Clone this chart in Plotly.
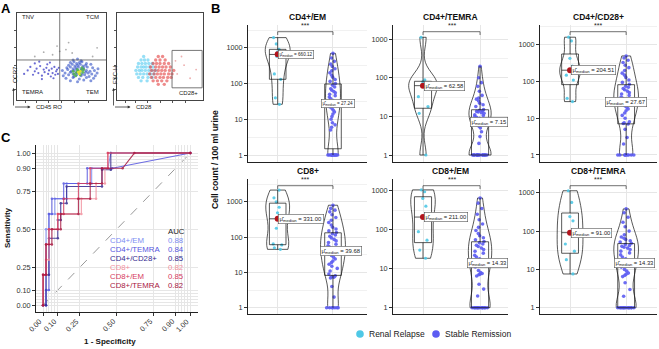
import numpy as np
import plotly.graph_objects as go

W, H = 659, 349
FONT = "Liberation Sans, Arial, Helvetica, sans-serif"


def fx(p):
    return p / W


def fy(p):
    return 1 - p / H


# ---------------- Panel B data (cells / 100 ml urine) ----------------
titles_b = ["CD4+/EM", "CD4+/TEMRA", "CD4+/CD28+", "CD8+", "CD8+/EM", "CD8+/TEMRA"]
groups_b = ["Renal Relapse", "Stable Remission"]

relapse_cd4_em = [26.3, 40, 132, 186, 580.24, 740, 780, 910, 1290, 1940]
remission_cd4_em = [1] * 13 + [5, 6, 7, 8, 10, 12, 14, 16, 18, 20, 22, 25, 27.24, 30, 34, 38, 42, 46, 50,
                               55, 60, 65, 72, 80, 90, 100, 115, 130, 150, 170, 200, 230, 260, 300, 350,
                               420, 520, 700]

relapse_cd4_temra = [1, 12, 18, 32.5, 62.58, 70, 79, 88, 1120]
remission_cd4_temra = [1] * 18 + [2, 3, 4, 5, 5.5, 6, 6.5, 7.15, 8, 9, 9.5, 10, 10.5, 11, 12, 12.5, 13,
                                  13.5, 14, 14.5, 15, 18, 20, 22, 25, 28, 30, 35, 45, 60, 75, 100, 200]

relapse_cd4_cd28 = [28.5, 35, 110, 150, 204.51, 265, 430, 1280, 1620]
remission_cd4_cd28 = [1] * 9 + [2, 3, 5, 7, 7.2, 7.5, 8, 10, 12, 14, 16, 18, 20, 22, 24, 26, 27.67, 30, 32,
                                35, 38, 42, 46, 50, 55, 60, 65, 70, 75, 85, 95, 110, 130, 150, 170, 200, 240,
                                280, 330, 380, 440, 500]

relapse_cd8 = [45, 50, 60, 64, 178, 331, 490, 700, 1000, 1300, 2150]
remission_cd8 = [1] * 7 + [2, 4, 7, 7.3, 7.5, 8, 9, 11, 13, 15, 17, 19, 21, 24, 27, 30, 33, 36, 39.68, 43,
                           47, 52, 57, 63, 70, 78, 86, 95, 105, 115, 125, 135, 150, 170, 190, 220, 260, 300,
                           360, 430, 520, 580, 650, 800]

relapse_cd8_em = [18.5, 30, 54, 89, 211, 400, 635, 940, 1050]
remission_cd8_em = [1] * 14 + [2, 3, 4, 6.5, 7, 7.2, 7.5, 8, 9, 11, 13, 14.33, 16, 18, 20, 22, 25, 28, 31,
                               34, 37, 40, 43, 46, 50, 55, 62, 70, 80, 95, 115, 140, 180, 250, 350, 480, 650]

relapse_cd8_temra = [7.6, 18, 30, 46, 91, 186, 240, 560, 1130]
remission_cd8_temra = [1] * 14 + [2, 3, 4.5, 6.5, 7, 7.5, 8, 9, 10, 11.5, 13, 14.33, 16, 19, 21, 24, 27,
                                  30, 33, 36, 38, 40, 42, 45, 48, 52, 56, 60, 65, 70, 80, 100, 130, 170, 230,
                                  300, 380]

y_tick_vals = [1, 10, 100, 1000]

# ---------------- Panel C data (ROC) ----------------
roc_names = ["CD4+/EM", "CD4+/TEMRA", "CD4+/CD28+", "CD8+", "CD8+/EM", "CD8+/TEMRA"]
roc_auc = [0.88, 0.84, 0.85, 0.82, 0.85, 0.82]
fpr_cd4_em = [0, 0.02, 0.02, 0.04, 0.04, 0.08, 0.08, 0.16, 0.16, 0.33, 0.33, 0.44, 0.46, 1.0]
tpr_cd4_em = [0, 0, 0.5, 0.5, 0.6, 0.6, 0.7, 0.7, 0.8, 0.8, 0.9, 0.9, 1.0, 1.0]
fpr_cd4_temra = [0, 0.02, 0.02, 0.04, 0.04, 0.06, 0.06, 0.14, 0.14, 0.30, 0.30, 0.47, 1.0]
tpr_cd4_temra = [0, 0, 0.1, 0.1, 0.6, 0.6, 0.7, 0.7, 0.8, 0.8, 0.9, 0.9, 1.0]
fpr_cd4_cd28 = [0, 0.02, 0.02, 0.04, 0.04, 0.10, 0.10, 0.12, 0.12, 0.16, 0.16, 0.40, 0.40, 0.46, 0.46, 1.0]
tpr_cd4_cd28 = [0, 0, 0.2, 0.2, 0.44, 0.44, 0.56, 0.56, 0.67, 0.67, 0.78, 0.78, 0.89, 0.89, 1.0, 1.0]
fpr_cd8 = [0, 0, 0.02, 0.02, 0.04, 0.04, 0.10, 0.10, 0.26, 0.26, 0.36, 0.36, 0.42, 0.42, 0.44, 0.44, 1.0]
tpr_cd8 = [0, 0.2, 0.2, 0.3, 0.3, 0.5, 0.5, 0.6, 0.6, 0.7, 0.7, 0.8, 0.8, 0.9, 0.9, 1.0, 1.0]
fpr_cd8_em = [0, 0, 0.02, 0.02, 0.04, 0.04, 0.10, 0.10, 0.14, 0.14, 0.24, 0.24, 0.32, 0.32, 0.44, 0.44, 1.0]
tpr_cd8_em = [0, 0.2, 0.2, 0.4, 0.4, 0.5, 0.5, 0.6, 0.6, 0.7, 0.7, 0.8, 0.8, 0.9, 0.9, 1.0, 1.0]
fpr_cd8_temra = [0, 0, 0.02, 0.02, 0.06, 0.06, 0.12, 0.12, 0.24, 0.24, 0.32, 0.32, 0.40, 0.40, 0.54, 0.62, 1.0]
tpr_cd8_temra = [0, 0.2, 0.2, 0.4, 0.4, 0.5, 0.5, 0.6, 0.6, 0.7, 0.7, 0.8, 0.8, 0.9, 0.9, 1.0, 1.0]
roc_ticks = [0, 0.10, 0.25, 0.50, 0.75, 0.90, 1.00]

# ---------------- Panel A data (flow cytometry events, arbitrary units) ----------------
flow1_sparse = [(8, 30), (12, 34), (15, 38), (18, 29), (20, 33), (22, 36), (24, 31), (26, 39), (28, 28),
                (30, 35), (31, 32), (33, 37), (35, 30), (36, 34), (38, 27), (39, 36), (40, 31), (42, 38),
                (43, 29), (44, 33), (45, 35), (46, 30), (47, 37), (20, 42), (28, 24), (34, 41), (41, 25),
                (25, 44), (37, 43)]
flow1_dense = [(60, 22), (68, 21), (75, 23), (83, 22), (55, 25), (63, 26), (70, 24), (78, 26), (86, 25),
               (52, 28), (58, 29), (64, 27), (67, 29), (72, 28), (76, 29), (81, 27), (88, 28), (54, 31),
               (60, 32), (63, 30), (66, 31), (69, 32), (73, 30), (77, 32), (80, 31), (84, 30), (90, 31),
               (51, 34), (57, 35), (61, 33), (64, 34), (67, 35), (70, 33), (74, 35), (78, 34), (82, 33),
               (87, 34), (56, 37), (60, 38), (63, 36), (66, 37), (69, 38), (72, 36), (75, 37), (79, 38),
               (85, 37), (91, 36), (58, 40), (62, 41), (65, 39), (68, 40), (71, 41), (74, 39), (77, 40),
               (83, 41), (60, 43), (64, 44), (67, 42), (70, 43), (73, 44), (78, 42), (63, 46), (68, 47),
               (72, 45)]
flow1_green = [(64, 30), (67, 32), (70, 31), (72, 34), (68, 35), (74, 32), (66, 28), (71, 29), (69, 33),
               (75, 35), (63, 33), (73, 37)]
flow1_yellow = [(69, 32), (71, 33), (70, 30)]
flow1_gray = [(40, 52), (48, 56), (55, 58), (45, 62), (62, 54), (30, 55), (58, 66), (85, 50), (20, 50),
              (90, 60)]
flow2_cyan = [(28, 22), (35, 22), (25, 26), (30, 26), (36, 26), (41, 26), (23, 30), (27, 30), (31, 30),
              (35, 30), (39, 30), (43, 30), (22, 34), (26, 34), (29, 34), (33, 34), (37, 34), (41, 34),
              (45, 34), (24, 38), (28, 38), (31, 38), (34, 38), (38, 38), (42, 38), (25, 42), (29, 42),
              (33, 42), (37, 42), (41, 42), (28, 46), (32, 46), (36, 46), (31, 50)]
flow2_red = [(48, 18), (55, 18), (42, 22), (47, 22), (52, 22), (58, 22), (40, 26), (45, 26), (50, 26),
             (54, 26), (59, 26), (63, 26), (38, 30), (43, 30), (47, 30), (51, 30), (55, 30), (60, 30),
             (64, 30), (40, 34), (44, 34), (48, 34), (52, 34), (56, 34), (61, 34), (66, 34), (39, 38),
             (45, 38), (49, 38), (53, 38), (57, 38), (62, 38), (42, 42), (46, 42), (50, 42), (55, 42),
             (60, 42), (45, 46), (50, 46), (56, 46), (48, 50), (53, 50)]
flow2_sparse = [(70, 30), (78, 40), (85, 25), (92, 35), (75, 50), (68, 45)]
flow1_quad = (48, 46)
flow2_gate = (64, 99, 14, 57)

# ---------------- styles ----------------
C_REL = "#4fc8e6"
C_REM = "#5c5cf2"
C_MED = "#b3141c"
GRID = "#e6e6e6"
GRID_MINOR = "#f1f1f1"
roc_colors = ["#7d8cf2", "#5656e0", "#33288f", "#f2909e", "#d63a5e", "#a8173f"]

rows_top = [25, 179]
rows_bot = [162, 314]
cols_left = [248, 393, 540]
cols_right = [367, 508, 657]
xr_b = [[-0.537, 1.615], [-0.526, 1.49], [-0.536, 1.55]]
yr_b = [[-0.196, 3.641], [-0.181, 3.368], [-0.191, 3.542],
        [-0.178, 3.646], [-0.162, 3.30], [-0.164, 3.36]]
w_rel = [0.45, 0.50, 0.37, 0.43, 0.43, 0.46]
w_rem = [0.27, 0.39, 0.44, 0.45, 0.41, 0.44]
lab_font = [4.6, 5.8, 5.9, 5.9, 5.8, 5.8]
lab_dx_rel = [0, 1, 1, 0, 1, 1]
lab_dx_rem = [-12, -10, -21, -13, -13, -12]


def nrd0(v):
    v = np.asarray(v, dtype=float)
    sd = np.std(v, ddof=1)
    q75, q25 = np.percentile(v, [75, 25])
    lo = min(sd, (q75 - q25) / 1.34)
    if lo <= 0:
        lo = sd if sd > 0 else 1.0
    return 0.9 * lo * len(v) ** -0.2


fig = go.Figure()
annotations = []
shapes = []
layout = dict(width=W, height=H, margin=dict(l=0, r=0, t=0, b=0), paper_bgcolor="white",
              plot_bgcolor="white", showlegend=False, font=dict(family=FONT, color="#222"),
              violinmode="overlay", boxmode="overlay")

relapse_sets = [relapse_cd4_em, relapse_cd4_temra, relapse_cd4_cd28, relapse_cd8, relapse_cd8_em,
                relapse_cd8_temra]
remission_sets = [remission_cd4_em, remission_cd4_temra, remission_cd4_cd28, remission_cd8,
                  remission_cd8_em, remission_cd8_temra]

for i in range(6):
    r, c = divmod(i, 3)
    s = "" if i == 0 else str(i + 1)
    xa, ya = "x" + s, "y" + s
    for g, (vals, col, wd, jit, msz) in enumerate([(relapse_sets[i], C_REL, w_rel[i], 0.45, 3.2),
                                                   (remission_sets[i], C_REM, w_rem[i], 0.8, 3.6)]):
        lv = np.log10(np.asarray(vals, dtype=float))
        fig.add_trace(go.Violin(x=[g] * len(lv), y=lv, xaxis=xa, yaxis=ya, width=wd, spanmode="hard",
                                bandwidth=nrd0(lv), points="all", jitter=jit, pointpos=0,
                                marker=dict(color=col, size=msz, opacity=0.9),
                                line=dict(color="#111", width=0.7), fillcolor="rgba(0,0,0,0)",
                                scalemode="width", hoverinfo="skip"))
        fig.add_trace(go.Box(x=[g] * len(lv), y=lv, xaxis=xa, yaxis=ya, width=0.3, boxpoints=False,
                             line=dict(color="#111", width=0.7), fillcolor="rgba(0,0,0,0)",
                             whiskerwidth=0, quartilemethod="linear", hoverinfo="skip"))
    med_rel = float(np.median(relapse_sets[i]))
    med_rem = float(np.median(remission_sets[i]))
    fig.add_trace(go.Scatter(x=[0, 1], y=[np.log10(med_rel), np.log10(med_rem)], xaxis=xa, yaxis=ya,
                             mode="markers", marker=dict(color=C_MED, size=6), hoverinfo="skip"))
    for g, med, dx in [(0, med_rel, lab_dx_rel[i]), (1, med_rem, lab_dx_rem[i])]:
        annotations.append(dict(x=g, y=np.log10(med), xref=xa, yref=ya, xanchor="left", yanchor="middle",
                                xshift=dx, showarrow=False,
                                text="\u03bc\u0302<sub>median</sub> = %.2f" % med,
                                font=dict(size=lab_font[i], color="#222"), bgcolor="white",
                                bordercolor="#555", borderwidth=0.6, borderpad=1))
    L, R = cols_left[c], cols_right[c]
    top, bot = rows_top[r], rows_bot[r]
    layout["xaxis" + s] = dict(domain=[fx(L), fx(R)], range=xr_b[c], anchor=ya, tickvals=[0, 1],
                               showticklabels=False, ticks="", showgrid=True, gridcolor=GRID,
                               gridwidth=0.8, showline=True, linecolor="#222", linewidth=0.8,
                               zeroline=False, fixedrange=True)
    layout["yaxis" + s] = dict(domain=[fy(bot), fy(top)], range=yr_b[i], anchor=xa,
                               tickvals=list(np.log10(y_tick_vals)), ticktext=[str(v) for v in y_tick_vals],
                               ticks="outside", ticklen=3, tickwidth=0.7, tickcolor="#333",
                               tickfont=dict(size=7.3, color="#333"), showgrid=True, gridcolor=GRID,
                               gridwidth=0.8, minor=dict(tickvals=[0.5, 1.5, 2.5, 3.5], showgrid=True,
                                                         gridcolor=GRID_MINOR, gridwidth=0.6, ticks=""),
                               showline=True, linecolor="#222", linewidth=0.8, zeroline=False,
                               fixedrange=True)
    # title
    annotations.append(dict(x=fx((L + R) / 2), y=fy(top - 8), xref="paper", yref="paper",
                            text="<b>%s</b>" % titles_b[i], showarrow=False, font=dict(size=8.5, color="#111"),
                            xanchor="center", yanchor="middle"))
    # significance bracket
    ytop = top + 6.7
    ytick = top + 10
    shapes.append(dict(type="path", xref=xa, yref="paper",
                       path="M 0,%f L 0,%f L 1,%f L 1,%f" % (fy(ytick), fy(ytop), fy(ytop), fy(ytick)),
                       line=dict(color="#333", width=0.7)))
    annotations.append(dict(x=0.5, y=fy(ytop - 0.5), xref=xa, yref="paper", text="***", showarrow=False,
                            font=dict(size=7, color="#222"), xanchor="center", yanchor="bottom"))

# y title for panel B
annotations.append(dict(x=fx(215), y=fy(160), xref="paper", yref="paper",
                        text="<b>Cell count / 100 ml urine</b>", textangle=-90, showarrow=False,
                        font=dict(size=8.6, color="#111"), xanchor="center", yanchor="middle"))

# legend for panel B
for cx, col, label in [(360, C_REL, groups_b[0]), (436, C_REM, groups_b[1])]:
    shapes.append(dict(type="circle", xref="paper", yref="paper", x0=fx(cx - 3.8), x1=fx(cx + 3.8),
                       y0=fy(334 + 3.8), y1=fy(334 - 3.8), fillcolor=col, line=dict(width=0)))
    annotations.append(dict(x=fx(cx + 7), y=fy(334), xref="paper", yref="paper", text=label,
                            showarrow=False, font=dict(size=8.5, color="#1a1a1a"), xanchor="left",
                            yanchor="middle"))

# ---------------- Panel C: ROC ----------------
roc_fpr = [fpr_cd4_em, fpr_cd4_temra, fpr_cd4_cd28, fpr_cd8, fpr_cd8_em, fpr_cd8_temra]
roc_tpr = [tpr_cd4_em, tpr_cd4_temra, tpr_cd4_cd28, tpr_cd8, tpr_cd8_em, tpr_cd8_temra]
for k in range(6):
    fig.add_trace(go.Scatter(x=roc_fpr[k], y=roc_tpr[k], xaxis="x9", yaxis="y9", mode="lines+markers",
                             line=dict(color=roc_colors[k], width=1.1), marker=dict(size=2.5),
                             opacity=0.85, hoverinfo="skip"))
shapes.append(dict(type="line", xref="x9", yref="y9", x0=0, y0=0, x1=1, y1=1, layer="below",
                   line=dict(color="#8c8c8c", width=0.9, dash="dash")))
minor_roc = [round(v, 2) for v in list(np.arange(0.02, 0.1, 0.02)) + list(np.arange(0.92, 1.0, 0.02))]
tick_txt = ["%.2f" % v for v in roc_ticks]
layout["xaxis9"] = dict(domain=[fx(36), fx(198)], range=[-0.048, 1.052], anchor="y9", tickvals=roc_ticks,
                        showticklabels=False, ticks="outside", ticklen=3, tickwidth=0.7,
                        tickcolor="#333", showgrid=True, gridcolor=GRID, gridwidth=0.7,
                        minor=dict(tickvals=minor_roc, showgrid=True, gridcolor=GRID, gridwidth=0.6, ticks=""),
                        showline=True, linecolor="#222", linewidth=0.8, zeroline=False, fixedrange=True)
layout["yaxis9"] = dict(domain=[fy(312), fy(145)], range=[-0.044, 1.053], anchor="x9", tickvals=roc_ticks,
                        ticktext=tick_txt, ticks="outside", ticklen=3, tickwidth=0.7, tickcolor="#333",
                        tickfont=dict(size=7.3, color="#333"), showgrid=True, gridcolor=GRID, gridwidth=0.7,
                        minor=dict(tickvals=minor_roc, showgrid=True, gridcolor=GRID, gridwidth=0.6, ticks=""),
                        showline=True, linecolor="#222", linewidth=0.8, zeroline=False, fixedrange=True)
for v, t in zip(roc_ticks, tick_txt):
    annotations.append(dict(x=v, y=fy(314.5), xref="x9", yref="paper", text=t, textangle=-45,
                            showarrow=False, font=dict(size=7.3, color="#333"), xanchor="right",
                            yanchor="top", xshift=3))
annotations.append(dict(x=fx(166), y=fy(231), xref="paper", yref="paper", text="AUC", showarrow=False,
                        font=dict(size=7.8, color="#222"), xanchor="left", yanchor="middle"))
row_y = [240.5, 249.5, 258.5, 267.5, 276.6, 285.7]
for k in range(6):
    annotations.append(dict(x=fx(108), y=fy(row_y[k]), xref="paper", yref="paper", text=roc_names[k],
                            showarrow=False, font=dict(size=7.8, color=roc_colors[k]), xanchor="left",
                            yanchor="middle"))
    annotations.append(dict(x=fx(166), y=fy(row_y[k]), xref="paper", yref="paper", text="%.2f" % roc_auc[k],
                            showarrow=False, font=dict(size=7.8, color=roc_colors[k]), xanchor="left",
                            yanchor="middle"))
annotations.append(dict(x=fx(7), y=fy(228), xref="paper", yref="paper", text="<b>Sensitivity</b>",
                        textangle=-90, showarrow=False, font=dict(size=8, color="#111"),
                        xanchor="center", yanchor="middle"))
annotations.append(dict(x=fx(110), y=fy(341), xref="paper", yref="paper", text="<b>1 - Specificity</b>",
                        showarrow=False, font=dict(size=8, color="#111"), xanchor="center", yanchor="middle"))

# ---------------- Panel A: flow plots ----------------
def add_pts(pts, xa, ya, color, size, op):
    xs, ys = zip(*pts)
    fig.add_trace(go.Scatter(x=list(xs), y=list(ys), xaxis=xa, yaxis=ya, mode="markers",
                             marker=dict(color=color, size=size, opacity=op, line=dict(width=0)),
                             hoverinfo="skip"))


add_pts(flow1_gray, "x7", "y7", "#9a9a9a", 1.8, 0.8)
add_pts(flow1_sparse, "x7", "y7", "#4646c8", 2.2, 0.8)
add_pts(flow1_dense, "x7", "y7", "#2f4fc4", 3.0, 0.6)
add_pts(flow1_green, "x7", "y7", "#4fb04a", 3.0, 0.85)
add_pts(flow1_yellow, "x7", "y7", "#e6e23a", 2.8, 0.95)
add_pts(flow2_sparse, "x8", "y8", "#e89a9a", 1.8, 0.8)
add_pts(flow2_cyan, "x8", "y8", "#3fc4ef", 3.4, 0.55)
add_pts(flow2_red, "x8", "y8", "#e02a2a", 3.4, 0.55)

for s, L, R in [("7", 17, 106), ("8", 117, 203)]:
    layout["xaxis" + s] = dict(domain=[fx(L), fx(R)], range=[0, 100], anchor="y" + s, showgrid=False,
                               zeroline=False, showline=True, mirror=True, linecolor="#444", linewidth=0.8,
                               tickvals=[10, 22, 35, 50, 65, 80], showticklabels=False, ticks="outside",
                               ticklen=2, tickwidth=0.6, tickcolor="#555", fixedrange=True)
    layout["yaxis" + s] = dict(domain=[fy(100), fy(13)], range=[0, 100], anchor="x" + s, showgrid=False,
                               zeroline=False, showline=True, mirror=True, linecolor="#444", linewidth=0.8,
                               tickvals=[12, 25, 40, 60, 80], showticklabels=False, ticks="outside",
                               ticklen=2, tickwidth=0.6, tickcolor="#555", fixedrange=True)

qx, qy = flow1_quad
shapes.append(dict(type="line", xref="x7", yref="y7", x0=qx, x1=qx, y0=0, y1=100, line=dict(color="#555", width=0.8)))
shapes.append(dict(type="line", xref="x7", yref="y7", x0=0, x1=100, y0=qy, y1=qy, line=dict(color="#555", width=0.8)))
gx0, gx1, gy0, gy1 = flow2_gate
shapes.append(dict(type="rect", xref="x8", yref="y8", x0=gx0, x1=gx1, y0=gy0, y1=gy1,
                   line=dict(color="#555", width=0.8)))

for txt, x, y, anc in [("TNV", 20, 17, "left"), ("TCM", 101, 17, "right"), ("TEMRA", 20, 92, "left"),
                       ("TEM", 101, 92, "right"), ("CD28+", 200, 93, "right")]:
    annotations.append(dict(x=fx(x), y=fy(y), xref="paper", yref="paper", text=txt, showarrow=False,
                            font=dict(size=6, color="#222"), xanchor=anc, yanchor="middle"))

for x0, lab_v, lab_h in [(13.5, "CCR7", "CD45 RO"), (113.5, "FSC-H", "CD28")]:
    annotations.append(dict(x=fx(x0), y=fy(88), xref="paper", yref="paper", ax=0, ay=19, text="",
                            showarrow=True, arrowhead=2, arrowsize=0.7, arrowwidth=0.8, arrowcolor="#333"))
    annotations.append(dict(x=fx(x0 + 17), y=fy(107), xref="paper", yref="paper", ax=-17, ay=0, text="",
                            showarrow=True, arrowhead=2, arrowsize=0.7, arrowwidth=0.8, arrowcolor="#333"))
    annotations.append(dict(x=fx(x0 + 1.5), y=fy(75), xref="paper", yref="paper", text=lab_v, textangle=-90,
                            showarrow=False, font=dict(size=6, color="#222"), xanchor="center",
                            yanchor="middle"))
    annotations.append(dict(x=fx(x0 + 20), y=fy(107), xref="paper", yref="paper", text=lab_h,
                            showarrow=False, font=dict(size=6, color="#222"), xanchor="left",
                            yanchor="middle"))

# panel letters
for letter, x, y in [("A", 6, 9), ("B", 215, 9), ("C", 6, 137)]:
    annotations.append(dict(x=fx(x), y=fy(y), xref="paper", yref="paper", text="<b>%s</b>" % letter,
                            showarrow=False, font=dict(size=13, color="#000"), xanchor="center",
                            yanchor="middle"))

layout["annotations"] = annotations
layout["shapes"] = shapes
fig.update_layout(**layout)
fig.write_html("out.html", config={"displayModeBar": False},
               post_script="document.body.style.margin='0';document.body.style.overflow='hidden';")
